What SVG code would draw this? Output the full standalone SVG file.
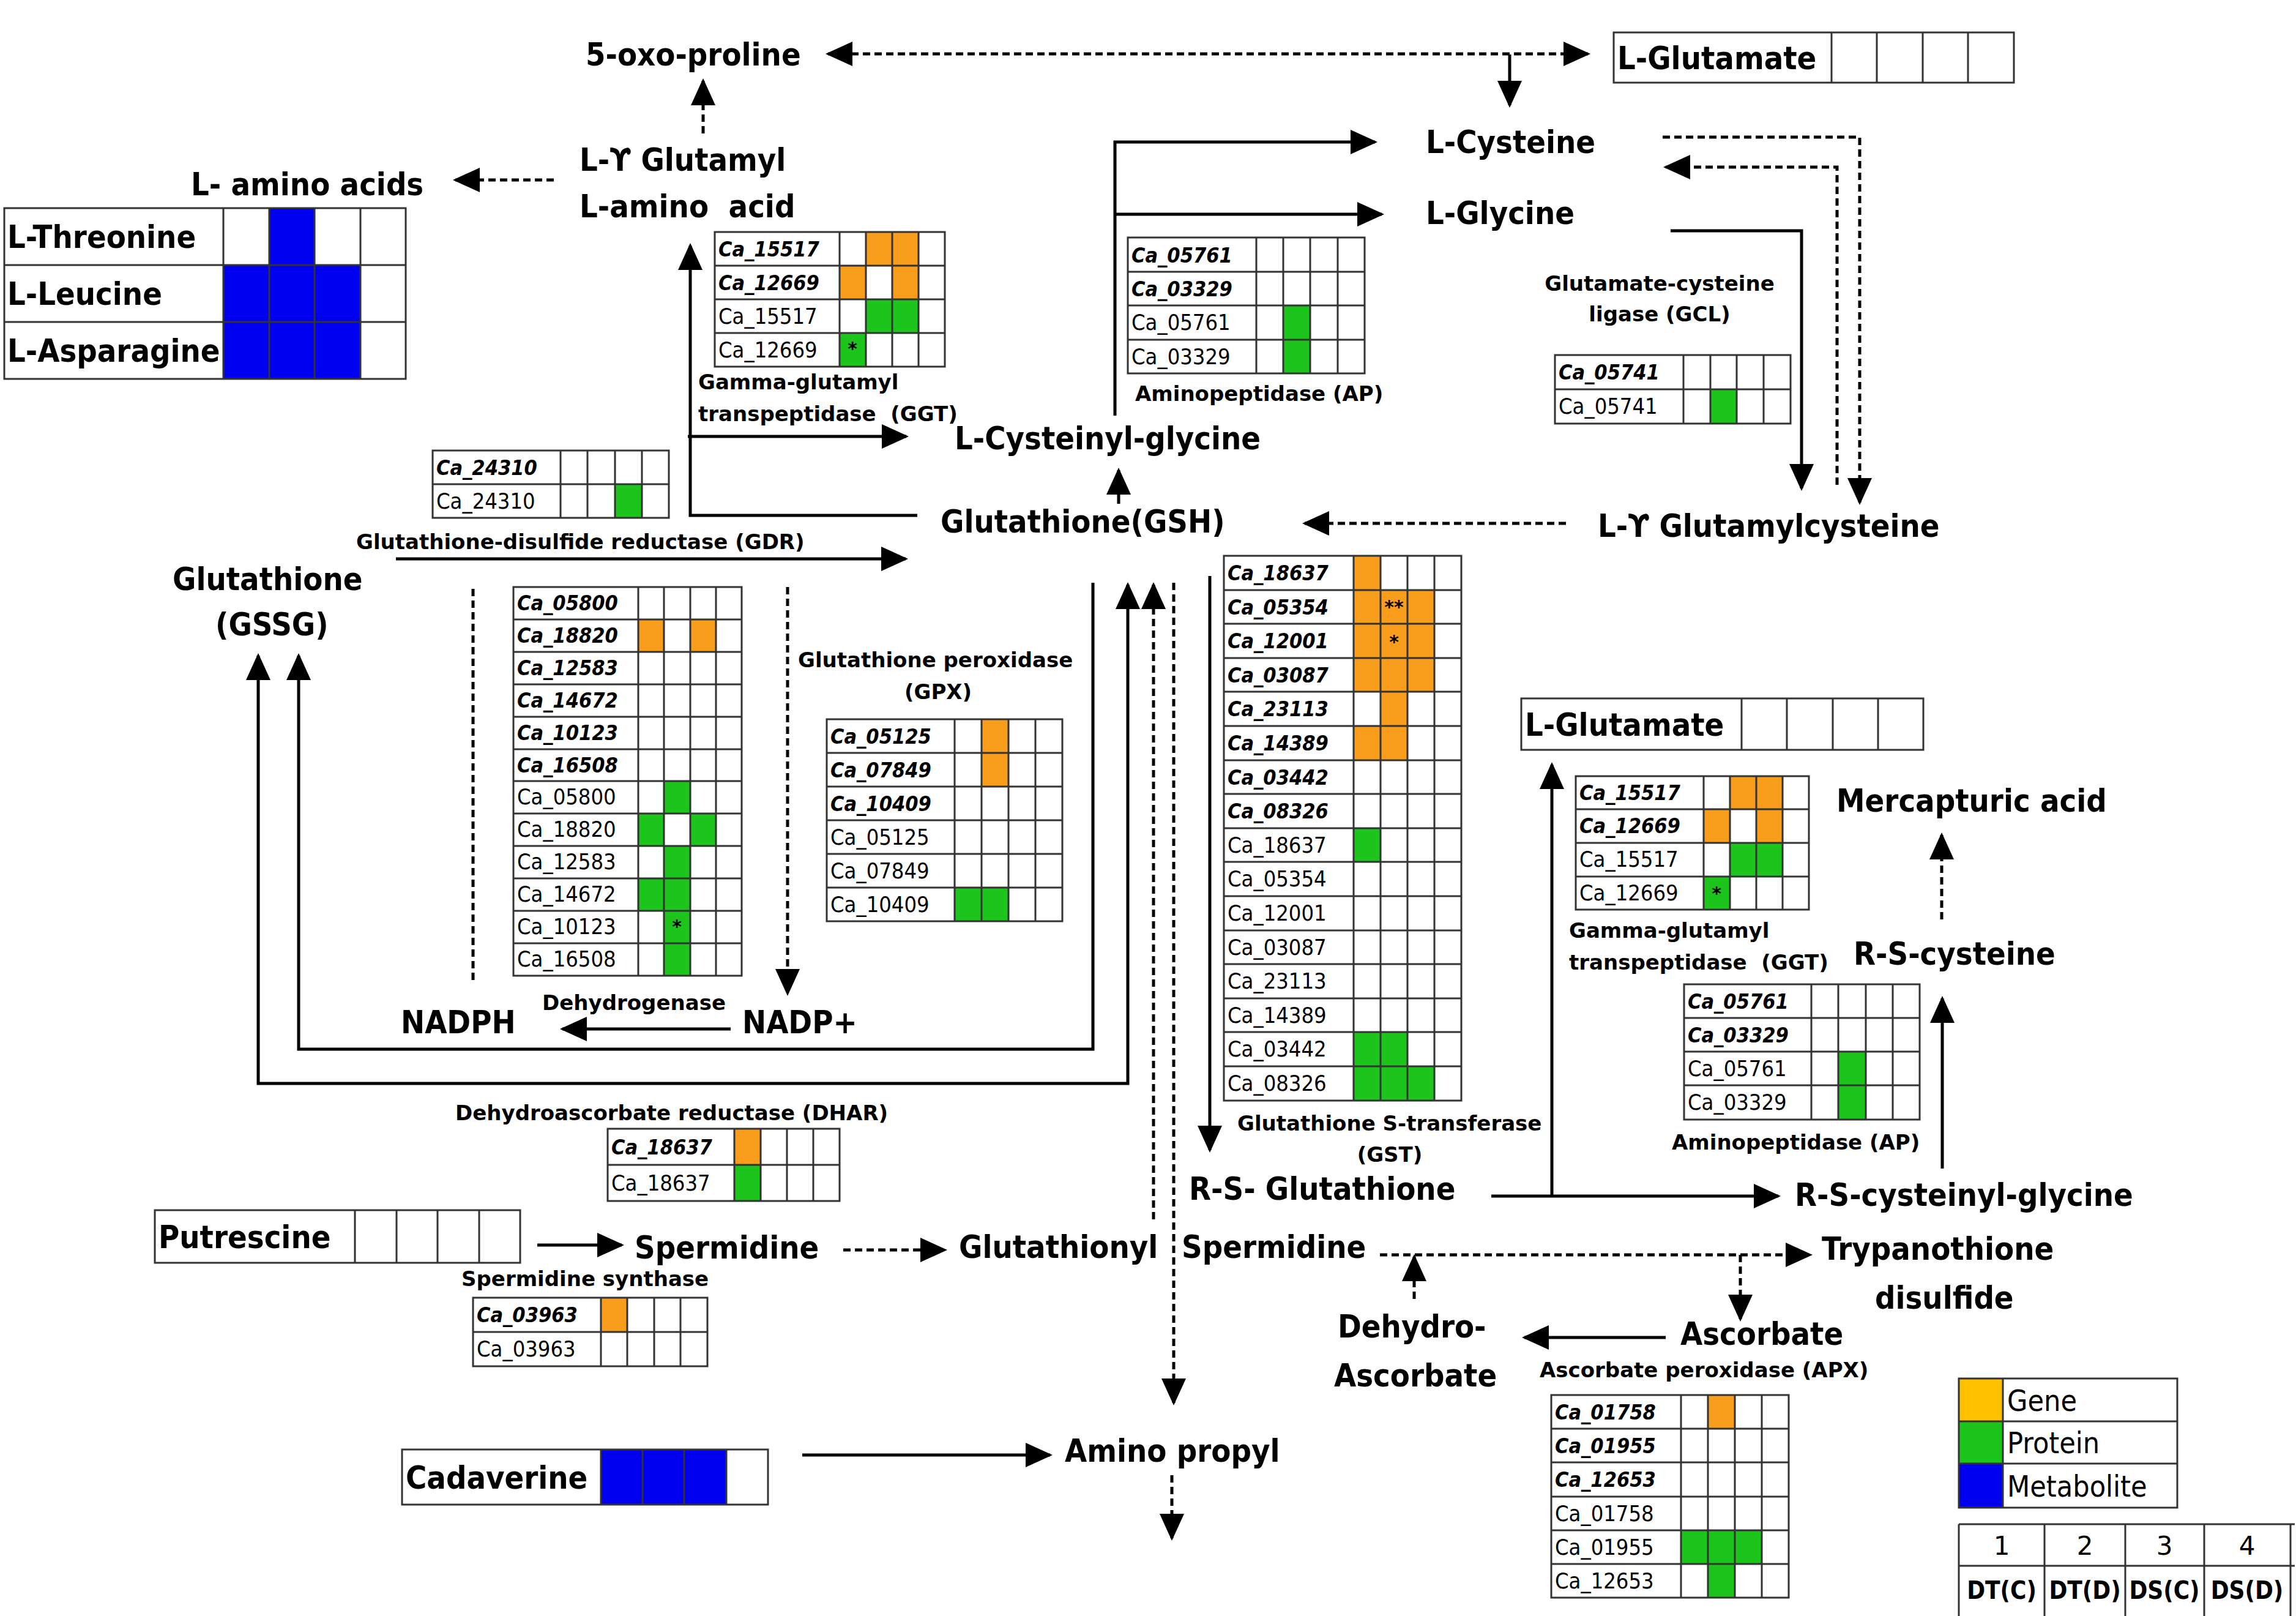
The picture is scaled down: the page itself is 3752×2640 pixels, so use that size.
<svg xmlns="http://www.w3.org/2000/svg" width="3752" height="2640" viewBox="0 0 3752 2640">
<style>
text{font-family:'DejaVu Sans',sans-serif;fill:#000}
.n{font-family:'DejaVu Sans Condensed','DejaVu Sans',sans-serif;font-size:52px;font-weight:bold}
.c{font-size:34px;font-weight:bold}
.gi{font-family:'DejaVu Sans Condensed','DejaVu Sans',sans-serif;font-size:34px;font-style:italic;font-weight:bold}
.pr{font-family:'DejaVu Sans Condensed','DejaVu Sans',sans-serif;font-size:36px}
.st{font-size:30px;font-weight:bold;text-anchor:middle}
.mid{text-anchor:middle}
.lg{font-family:'DejaVu Sans Condensed','DejaVu Sans',sans-serif;font-size:48px}
.hd{font-size:42px;text-anchor:middle}
.hs{font-family:'DejaVu Sans Condensed','DejaVu Sans',sans-serif;font-size:40px;font-weight:bold;text-anchor:middle}
.grid{fill:none;stroke:#333;stroke-width:3}
.o{fill:#f99d1c}
.g{fill:#1cc41c}
.b{fill:#0000f0}
.ln{fill:none;stroke:#000;stroke-width:5}
.dl{stroke-dasharray:12 7}
</style>
<defs>
<marker id="ah" viewBox="0 0 44 40" refX="40" refY="20" markerWidth="44" markerHeight="40" markerUnits="userSpaceOnUse" orient="auto-start-reverse"><path d="M0,0 L44,20 L0,40 Z" fill="#000"/></marker>
</defs>
<rect width="3752" height="2640" fill="#fff"/>

<g id="connectors">
<path class="ln dl" d="M1353,88 H2595" marker-start="url(#ah)" marker-end="url(#ah)"/>
<path class="ln" d="M2467,89 V172" marker-end="url(#ah)"/>
<path class="ln dl" d="M1149,218 V132" marker-end="url(#ah)"/>
<path class="ln dl" d="M905,294 H744" marker-end="url(#ah)"/>
<path class="ln" d="M1499,842 H1128 V401" marker-end="url(#ah)"/>
<path class="ln" d="M1124,713 H1481" marker-end="url(#ah)"/>
<path class="ln" d="M1828,823 V768" marker-end="url(#ah)"/>
<path class="ln" d="M1822,679 V232 H2247" marker-end="url(#ah)"/>
<path class="ln" d="M1822,350 H2258" marker-end="url(#ah)"/>
<path class="ln" d="M2730,377 H2944 V798" marker-end="url(#ah)"/>
<path class="ln dl" d="M2717,224 H3039 V821" marker-end="url(#ah)"/>
<path class="ln dl" d="M3002,792 V273 H2722" marker-end="url(#ah)"/>
<path class="ln dl" d="M2559,855 H2132" marker-end="url(#ah)"/>
<path class="ln" d="M647,913 H1480" marker-end="url(#ah)"/>
<path class="ln dl" d="M773,962 V1604"/>
<path class="ln dl" d="M1287,959 V1623" marker-end="url(#ah)"/>
<path class="ln" d="M1194,1681 H919" marker-end="url(#ah)"/>
<path class="ln" d="M1786,952 V1714 H488 V1071" marker-end="url(#ah)"/>
<path class="ln" d="M1843,955 V1770 H422 V1071" marker-start="url(#ah)" marker-end="url(#ah)"/>
<path class="ln dl" d="M1885,1992 V955" marker-end="url(#ah)"/>
<path class="ln dl" d="M1918,952 V2292" marker-end="url(#ah)"/>
<path class="ln" d="M1977,941 V1879" marker-end="url(#ah)"/>
<path class="ln" d="M2437,1954 H2906" marker-end="url(#ah)"/>
<path class="ln" d="M2536,1954 V1249" marker-end="url(#ah)"/>
<path class="ln" d="M3174,1909 V1631" marker-end="url(#ah)"/>
<path class="ln dl" d="M3173,1502 V1364" marker-end="url(#ah)"/>
<path class="ln" d="M878,2034 H1016" marker-end="url(#ah)"/>
<path class="ln dl" d="M1378,2042 H1544" marker-end="url(#ah)"/>
<path class="ln dl" d="M2255,2050 H2958" marker-end="url(#ah)"/>
<path class="ln dl" d="M2311,2122 V2053" marker-end="url(#ah)"/>
<path class="ln dl" d="M2844,2050 V2155" marker-end="url(#ah)"/>
<path class="ln" d="M2722,2185 H2491" marker-end="url(#ah)"/>
<path class="ln" d="M1311,2377 H1716" marker-end="url(#ah)"/>
<path class="ln dl" d="M1915,2410 V2513" marker-end="url(#ah)"/>
</g>

<g id="n-5oxoproline"><text class="n" x="957" y="107">5-oxo-proline</text></g>
<g id="n-lglutamyl-aa"><text class="n" x="947" y="279">L-ϒ Glutamyl</text><text class="n" x="947" y="355" xml:space="preserve">L-amino  acid</text></g>
<g id="n-lamino-acids"><text class="n" x="312" y="319">L- amino acids</text></g>
<g id="n-lcysteine"><text class="n" x="2330" y="250">L-Cysteine</text></g>
<g id="n-lglycine"><text class="n" x="2330" y="366">L-Glycine</text></g>
<g id="n-cysgly"><text class="n" x="1560" y="734">L-Cysteinyl-glycine</text></g>
<g id="n-gsh"><text class="n" x="1537" y="870">Glutathione(GSH)</text></g>
<g id="n-glucys"><text class="n" x="2611" y="877">L-ϒ Glutamylcysteine</text></g>
<g id="n-gssg"><text class="n" x="282" y="964">Glutathione</text><text class="n" x="352" y="1038">(GSSG)</text></g>
<g id="n-nadph"><text class="n" x="655" y="1688">NADPH</text></g>
<g id="n-nadp"><text class="n" x="1213" y="1688">NADP+</text></g>
<g id="n-rsglutathione"><text class="n" x="1943" y="1960">R-S- Glutathione</text></g>
<g id="n-rscysgly"><text class="n" x="2933" y="1970">R-S-cysteinyl-glycine</text></g>
<g id="n-rscysteine"><text class="n" x="3029" y="1576">R-S-cysteine</text></g>
<g id="n-mercapturic"><text class="n" x="3001" y="1326">Mercapturic acid</text></g>
<g id="n-spermidine"><text class="n" x="1037" y="2056">Spermidine</text></g>
<g id="n-glutspd"><text class="n" x="1567" y="2055">Glutathionyl<tspan x="1931">Spermidine</tspan></text></g>
<g id="n-trypanothione"><text class="n" x="2977" y="2058">Trypanothione</text><text class="n" x="3064" y="2138">disulfide</text></g>
<g id="n-dehydroascorbate"><text class="n" x="2186" y="2185">Dehydro-</text><text class="n" x="2180" y="2265">Ascorbate</text></g>
<g id="n-ascorbate"><text class="n" x="2746" y="2197">Ascorbate</text></g>
<g id="n-aminopropyl"><text class="n" x="1740" y="2388">Amino propyl</text></g>

<g id="m-aminoacids">
<rect class="b" x="440" y="340" width="74" height="93"/>
<rect class="b" x="365" y="433" width="224" height="186"/>
<path class="grid" d="M7,340H663V619H7Z M7,433H663 M7,526H663 M365,340V619 M440,340V619 M514,340V619 M589,340V619"/>
<text class="n" x="12" y="405">L-Threonine</text>
<text class="n" x="12" y="498">L-Leucine</text>
<text class="n" x="12" y="591">L-Asparagine</text>
</g>
<g id="m-lglutamate1">
<path class="grid" d="M2637,53H3291V135H2637Z M2993,53V135 M3067,53V135 M3142,53V135 M3216,53V135"/>
<text class="n" x="2643" y="113">L-Glutamate</text>
</g>
<g id="m-lglutamate2">
<path class="grid" d="M2486,1141H3143V1225H2486Z M2846,1141V1225 M2920,1141V1225 M2995,1141V1225 M3069,1141V1225"/>
<text class="n" x="2492" y="1202">L-Glutamate</text>
</g>
<g id="m-putrescine">
<path class="grid" d="M253,1977H850V2063H253Z M580,1977V2063 M648,1977V2063 M715,1977V2063 M783,1977V2063"/>
<text class="n" x="259" y="2039">Putrescine</text>
</g>
<g id="m-cadaverine">
<rect class="b" x="982" y="2368" width="205" height="90"/>
<path class="grid" d="M657,2368H1255V2458H657Z M982,2368V2458 M1050,2368V2458 M1118,2368V2458 M1187,2368V2458"/>
<text class="n" x="663" y="2432">Cadaverine</text>
</g>

<g id="e-ggt1">
<rect class="o" x="1415" y="379" width="86" height="55"/>
<rect class="o" x="1372" y="434" width="43" height="55"/>
<rect class="o" x="1458" y="434" width="43" height="55"/>
<rect class="g" x="1415" y="489" width="86" height="55"/>
<rect class="g" x="1372" y="544" width="43" height="55"/>
<path class="grid" d="M1168,379H1544V599H1168Z M1168,434H1544 M1168,489H1544 M1168,544H1544 M1372,379V599 M1415,379V599 M1458,379V599 M1501,379V599"/>
<text class="gi" x="1174" y="419">Ca_15517</text>
<text class="gi" x="1174" y="474">Ca_12669</text>
<text class="pr" x="1174" y="529">Ca_15517</text>
<text class="pr" x="1174" y="584">Ca_12669</text>
<text class="st" x="1393" y="580">*</text>
<text class="c" x="1141" y="636">Gamma-glutamyl</text>
<text class="c" x="1141" y="688" xml:space="preserve">transpeptidase  (GGT)</text>
</g>

<g id="e-ap1">
<rect class="g" x="2097" y="499" width="44" height="111"/>
<path class="grid" d="M1843,388H2230V610H1843Z M1843,444H2230 M1843,499H2230 M1843,555H2230 M2053,388V610 M2097,388V610 M2141,388V610 M2186,388V610"/>
<text class="gi" x="1849" y="429">Ca_05761</text>
<text class="gi" x="1849" y="484">Ca_03329</text>
<text class="pr" x="1849" y="539">Ca_05761</text>
<text class="pr" x="1849" y="595">Ca_03329</text>
<text class="c" x="1855" y="655">Aminopeptidase (AP)</text>
</g>

<g id="e-gcl">
<rect class="g" x="2795" y="636" width="43" height="56"/>
<path class="grid" d="M2541,580H2926V692H2541Z M2541,636H2926 M2751,580V692 M2795,580V692 M2838,580V692 M2882,580V692"/>
<text class="gi" x="2547" y="620">Ca_05741</text>
<text class="pr" x="2547" y="676">Ca_05741</text>
<text class="c mid" x="2712" y="475">Glutamate-cysteine</text>
<text class="c mid" x="2712" y="525">ligase (GCL)</text>
</g>

<g id="e-gdr">
<rect class="g" x="1005" y="791" width="44" height="55"/>
<path class="grid" d="M707,736H1093V846H707Z M707,791H1093 M916,736V846 M960,736V846 M1005,736V846 M1049,736V846"/>
<text class="gi" x="713" y="776">Ca_24310</text>
<text class="pr" x="713" y="831">Ca_24310</text>
<text class="c" x="582" y="897">Glutathione-disulfide reductase (GDR)</text>
</g>

<g id="e-dehydrogenase">
<rect class="o" x="1043" y="1012" width="42" height="53"/>
<rect class="o" x="1128" y="1012" width="42" height="53"/>
<rect class="g" x="1085" y="1276" width="43" height="53"/>
<rect class="g" x="1043" y="1329" width="42" height="53"/>
<rect class="g" x="1128" y="1329" width="42" height="53"/>
<rect class="g" x="1085" y="1382" width="43" height="212"/>
<rect class="g" x="1043" y="1435" width="42" height="53"/>
<path class="grid" d="M839,959H1212V1594H839Z M839,1012H1212 M839,1065H1212 M839,1118H1212 M839,1171H1212 M839,1224H1212 M839,1276H1212 M839,1329H1212 M839,1382H1212 M839,1435H1212 M839,1488H1212 M839,1541H1212 M1043,959V1594 M1085,959V1594 M1128,959V1594 M1170,959V1594"/>
<text class="gi" x="845" y="997">Ca_05800</text>
<text class="gi" x="845" y="1050">Ca_18820</text>
<text class="gi" x="845" y="1103">Ca_12583</text>
<text class="gi" x="845" y="1156">Ca_14672</text>
<text class="gi" x="845" y="1209">Ca_10123</text>
<text class="gi" x="845" y="1262">Ca_16508</text>
<text class="pr" x="845" y="1314">Ca_05800</text>
<text class="pr" x="845" y="1367">Ca_18820</text>
<text class="pr" x="845" y="1420">Ca_12583</text>
<text class="pr" x="845" y="1473">Ca_14672</text>
<text class="pr" x="845" y="1526">Ca_10123</text>
<text class="pr" x="845" y="1579">Ca_16508</text>
<text class="st" x="1106" y="1524">*</text>
<text class="c" x="886" y="1650">Dehydrogenase</text>
</g>

<g id="e-gpx">
<rect class="o" x="1604" y="1175" width="44" height="110"/>
<rect class="g" x="1560" y="1450" width="88" height="55"/>
<path class="grid" d="M1351,1175H1736V1505H1351Z M1351,1230H1736 M1351,1285H1736 M1351,1340H1736 M1351,1395H1736 M1351,1450H1736 M1560,1175V1505 M1604,1175V1505 M1648,1175V1505 M1692,1175V1505"/>
<text class="gi" x="1357" y="1215">Ca_05125</text>
<text class="gi" x="1357" y="1270">Ca_07849</text>
<text class="gi" x="1357" y="1325">Ca_10409</text>
<text class="pr" x="1357" y="1380">Ca_05125</text>
<text class="pr" x="1357" y="1435">Ca_07849</text>
<text class="pr" x="1357" y="1490">Ca_10409</text>
<text class="c" x="1304" y="1090">Glutathione peroxidase</text>
<text class="c mid" x="1533" y="1142">(GPX)</text>
</g>

<g id="e-gst">
<rect class="o" x="2212" y="908" width="44" height="222"/>
<rect class="o" x="2212" y="1186" width="44" height="56"/>
<rect class="o" x="2256" y="964" width="44" height="278"/>
<rect class="o" x="2300" y="964" width="44" height="166"/>
<rect class="g" x="2212" y="1353" width="44" height="55"/>
<rect class="g" x="2212" y="1686" width="88" height="112"/>
<rect class="g" x="2300" y="1742" width="44" height="56"/>
<path class="grid" d="M2000,908H2388V1798H2000Z M2000,964H2388 M2000,1019H2388 M2000,1075H2388 M2000,1130H2388 M2000,1186H2388 M2000,1242H2388 M2000,1297H2388 M2000,1353H2388 M2000,1408H2388 M2000,1464H2388 M2000,1520H2388 M2000,1575H2388 M2000,1631H2388 M2000,1686H2388 M2000,1742H2388 M2212,908V1798 M2256,908V1798 M2300,908V1798 M2344,908V1798"/>
<text class="gi" x="2006" y="948">Ca_18637</text>
<text class="gi" x="2006" y="1004">Ca_05354</text>
<text class="gi" x="2006" y="1059">Ca_12001</text>
<text class="gi" x="2006" y="1115">Ca_03087</text>
<text class="gi" x="2006" y="1170">Ca_23113</text>
<text class="gi" x="2006" y="1226">Ca_14389</text>
<text class="gi" x="2006" y="1282">Ca_03442</text>
<text class="gi" x="2006" y="1337">Ca_08326</text>
<text class="pr" x="2006" y="1393">Ca_18637</text>
<text class="pr" x="2006" y="1448">Ca_05354</text>
<text class="pr" x="2006" y="1504">Ca_12001</text>
<text class="pr" x="2006" y="1560">Ca_03087</text>
<text class="pr" x="2006" y="1615">Ca_23113</text>
<text class="pr" x="2006" y="1671">Ca_14389</text>
<text class="pr" x="2006" y="1726">Ca_03442</text>
<text class="pr" x="2006" y="1782">Ca_08326</text>
<text class="st" x="2278" y="1002">**</text>
<text class="st" x="2278" y="1059">*</text>
<text class="c" x="2022" y="1847">Glutathione S-transferase</text>
<text class="c mid" x="2271" y="1898">(GST)</text>
</g>

<g id="e-ggt2">
<rect class="o" x="2827" y="1268" width="86" height="54"/>
<rect class="o" x="2784" y="1322" width="43" height="55"/>
<rect class="o" x="2870" y="1322" width="43" height="55"/>
<rect class="g" x="2827" y="1377" width="86" height="55"/>
<rect class="g" x="2784" y="1432" width="43" height="54"/>
<path class="grid" d="M2575,1268H2956V1486H2575Z M2575,1322H2956 M2575,1377H2956 M2575,1432H2956 M2784,1268V1486 M2827,1268V1486 M2870,1268V1486 M2913,1268V1486"/>
<text class="gi" x="2581" y="1307">Ca_15517</text>
<text class="gi" x="2581" y="1361">Ca_12669</text>
<text class="pr" x="2581" y="1416">Ca_15517</text>
<text class="pr" x="2581" y="1471">Ca_12669</text>
<text class="st" x="2805" y="1470">*</text>
<text class="c" x="2564" y="1532">Gamma-glutamyl</text>
<text class="c" x="2564" y="1584" xml:space="preserve">transpeptidase  (GGT)</text>
</g>

<g id="e-ap2">
<rect class="g" x="3004" y="1718" width="45" height="111"/>
<path class="grid" d="M2752,1608H3137V1829H2752Z M2752,1663H3137 M2752,1718H3137 M2752,1773H3137 M2960,1608V1829 M3004,1608V1829 M3049,1608V1829 M3093,1608V1829"/>
<text class="gi" x="2758" y="1648">Ca_05761</text>
<text class="gi" x="2758" y="1703">Ca_03329</text>
<text class="pr" x="2758" y="1758">Ca_05761</text>
<text class="pr" x="2758" y="1813">Ca_03329</text>
<text class="c" x="2732" y="1878">Aminopeptidase (AP)</text>
</g>

<g id="e-dhar">
<rect class="o" x="1200" y="1844" width="43" height="59"/>
<rect class="g" x="1200" y="1903" width="43" height="59"/>
<path class="grid" d="M993,1844H1372V1962H993Z M993,1903H1372 M1200,1844V1962 M1243,1844V1962 M1286,1844V1962 M1329,1844V1962"/>
<text class="gi" x="999" y="1886">Ca_18637</text>
<text class="pr" x="999" y="1945">Ca_18637</text>
<text class="c" x="744" y="1830">Dehydroascorbate reductase (DHAR)</text>
</g>

<g id="e-spdsynthase">
<rect class="o" x="982" y="2120" width="43" height="56"/>
<path class="grid" d="M773,2120H1156V2232H773Z M773,2176H1156 M982,2120V2232 M1025,2120V2232 M1069,2120V2232 M1112,2120V2232"/>
<text class="gi" x="779" y="2160">Ca_03963</text>
<text class="pr" x="779" y="2216">Ca_03963</text>
<text class="c" x="754" y="2101">Spermidine synthase</text>
</g>

<g id="e-apx">
<rect class="o" x="2791" y="2279" width="44" height="55"/>
<rect class="g" x="2747" y="2500" width="132" height="55"/>
<rect class="g" x="2791" y="2555" width="44" height="55"/>
<path class="grid" d="M2535,2279H2923V2610H2535Z M2535,2334H2923 M2535,2389H2923 M2535,2445H2923 M2535,2500H2923 M2535,2555H2923 M2747,2279V2610 M2791,2279V2610 M2835,2279V2610 M2879,2279V2610"/>
<text class="gi" x="2541" y="2319">Ca_01758</text>
<text class="gi" x="2541" y="2374">Ca_01955</text>
<text class="gi" x="2541" y="2429">Ca_12653</text>
<text class="pr" x="2541" y="2485">Ca_01758</text>
<text class="pr" x="2541" y="2540">Ca_01955</text>
<text class="pr" x="2541" y="2595">Ca_12653</text>
<text class="c" x="2516" y="2250">Ascorbate peroxidase (APX)</text>
</g>

<g id="legend">
<rect x="3201" y="2252" width="72" height="70" fill="#ffc000"/>
<rect x="3201" y="2322" width="72" height="69" fill="#1cc41c"/>
<rect x="3201" y="2391" width="72" height="72" fill="#0000f0"/>
<path class="grid" d="M3201,2252H3558V2463H3201Z M3201,2322H3558 M3201,2391H3558 M3273,2252V2463"/>
<text class="lg" x="3280" y="2305">Gene</text>
<text class="lg" x="3280" y="2374">Protein</text>
<text class="lg" x="3280" y="2445">Metabolite</text>
</g>

<g id="columns-key">
<path class="grid" d="M3201,2490H3750 M3201,2558H3750 M3201,2490V2640 M3341,2490V2640 M3473,2490V2640 M3602,2490V2640 M3743,2490V2640"/>
<text class="hd" x="3271" y="2540">1</text>
<text class="hd" x="3407" y="2540">2</text>
<text class="hd" x="3537" y="2540">3</text>
<text class="hd" x="3672" y="2540">4</text>
<text class="hs" x="3271" y="2612">DT(C)</text>
<text class="hs" x="3407" y="2612">DT(D)</text>
<text class="hs" x="3537" y="2612">DS(C)</text>
<text class="hs" x="3672" y="2612">DS(D)</text>
</g>
</svg>
